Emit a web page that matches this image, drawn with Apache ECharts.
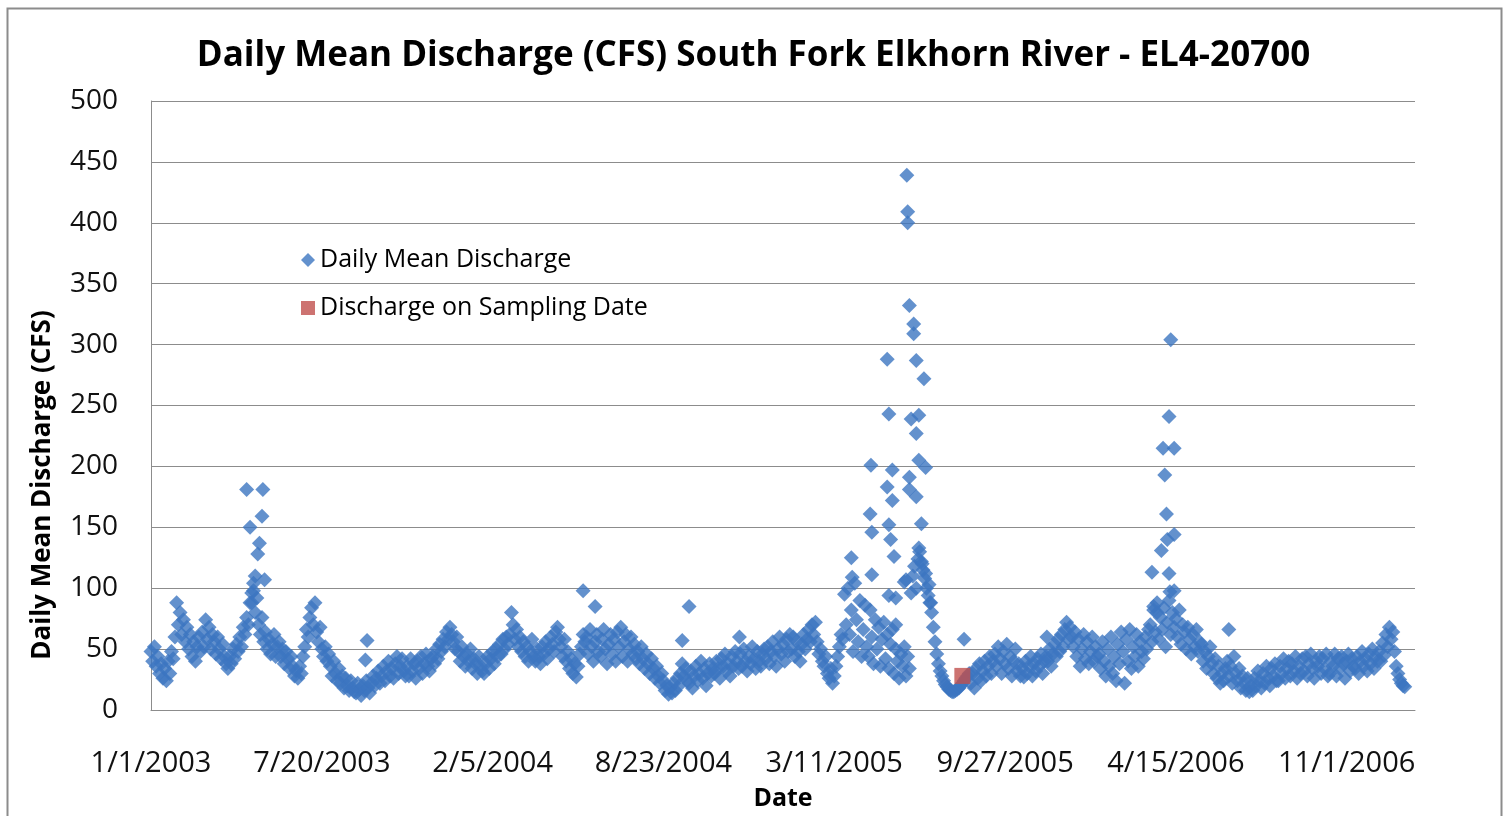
<!DOCTYPE html>
<html>
<head>
<meta charset="utf-8">
<script src="https://cdn.jsdelivr.net/npm/echarts@6/dist/echarts.min.js"></script>
<style>
html,body{margin:0;padding:0;background:#fff;}
#chart{width:1507px;height:816px;}
</style>
</head>
<body>
<div id="chart"></div>
<script>
// ---- DATA ----
const titleText = 'Daily Mean Discharge (CFS) South Fork Elkhorn River - EL4-20700';
const yAxisTitle = 'Daily Mean Discharge (CFS)';
const xAxisTitle = 'Date';
const seriesNames = ['Daily Mean Discharge', 'Discharge on Sampling Date'];
const startDateUTC = Date.UTC(2003, 0, 1);   // day 0 = 1/1/2003
const baseStepDays = 2;                       // base readings every 2 days from day 0
const baseFlow = [
  48,40,52,36,44,30,38,26,34,24,40,30,48,42,60,
  88,70,80,62,74,56,68,50,62,44,56,40,52,60,48,
  64,52,74,58,68,50,62,56,46,60,50,42,54,44,38,
  34,44,38,50,42,54,48,60,52,68,62,76,70,88,96,
  104,80,92,70,62,76,56,64,50,58,46,54,62,44,52,
  56,44,50,38,48,42,34,44,36,28,32,26,36,30,44,
  52,66,60,76,84,70,88,64,56,68,50,44,52,40,46,
  36,28,40,30,24,34,22,28,18,26,20,16,24,18,15,
  14,22,17,12,20,16,24,18,14,22,28,20,26,32,22,
  28,36,24,32,40,28,34,26,38,44,30,36,42,32,28,
  36,28,42,32,38,26,40,34,44,30,38,46,36,32,42,
  44,38,50,42,54,48,58,52,64,58,68,62,56,50,60,
  48,40,52,44,36,46,40,50,34,42,38,30,44,36,32,
  30,38,44,34,42,48,38,50,44,54,46,58,50,60,54,
  62,80,70,58,66,52,60,48,56,44,52,40,48,58,44,
  40,50,44,38,52,46,56,42,50,60,54,48,64,68,58,
  52,44,58,40,48,34,42,30,38,27,36,46,52,62,56,
  60,46,66,52,40,56,62,48,44,58,66,50,38,54,62,
  46,58,40,64,52,68,44,56,62,40,50,60,46,54,42,
  48,38,52,42,34,46,38,30,42,34,26,36,28,22,30,
  24,16,20,13,18,14,22,16,26,20,30,38,28,34,24,
  22,32,18,28,36,24,30,40,26,34,20,30,38,28,34,
  30,40,34,26,42,36,46,32,38,28,44,36,48,40,34,
  46,36,50,40,32,44,38,52,42,34,48,40,36,46,50,
  42,52,38,48,56,44,36,50,60,46,54,40,58,48,62,
  50,60,44,56,48,40,54,62,50,58,66,56,70,62,72,
  56,46,50,40,36,44,30,26,34,22,28,36,44,52,62,
  58,95,70,100,62,82,48,104,74,56,90,44,66,86,52,
  44,82,60,38,74,50,68,36,58,72,42,62,34,54,66,
  30,50,40,26,46,36,52,28,44,34,96,110,118,100,124,
  130,122,115,108,100,94,88,80,68,56,46,38,32,28,24,
  21,19,17,16,15,15,16,17,18,20,22,24,26,28,30,
  22,30,18,34,26,38,24,32,40,28,36,44,30,40,46,
  36,52,42,30,48,38,54,34,44,28,40,50,32,38,28,
  34,27,40,30,36,44,28,38,32,42,36,46,30,40,44,
  40,50,36,46,54,44,58,48,62,52,66,72,58,68,60,
  52,64,44,58,36,50,62,42,56,38,48,60,40,52,44,
  46,34,56,40,28,50,36,60,30,44,24,54,38,64,48,
  22,58,40,66,34,52,44,62,36,56,48,42,60,50,66,
  70,56,82,64,88,58,76,66,84,52,72,90,62,80,68,
  75,60,82,54,70,64,50,68,58,46,62,52,66,48,56,
  54,40,48,34,44,52,38,30,42,26,36,22,30,24,34,
  40,28,36,22,44,30,24,34,18,28,22,16,26,15,20,
  16,26,20,32,24,18,30,22,36,26,20,34,28,38,24,
  24,36,30,42,26,34,40,28,38,32,44,26,36,30,42,
  32,44,28,38,46,34,26,40,36,44,30,42,34,46,28,
  30,40,36,46,28,42,34,44,38,26,40,46,32,42,36,
  34,44,30,40,48,36,42,32,46,38,50,34,44,40,48,
  40,55,45,62,52,68,58,64,48,36,30,25,22,20,19
];
// high-flow days read individually (day offset from 1/1/2003, CFS)
const stormDays  = [112,116,118,120,122,125,127,130,131,133,251,253,
                    506,520,622,630,689,
                    820,821,842,843,844,844,862,862,864,864,864,866,868,868,870,872,872,
                    882,884,885,886,886,888,888,888,890,893,893,896,896,896,899,899,899,
                    902,903,905,907,907,911,913,952,1049,
                    1172,1174,1178,1183,1185,1187,1189,1190,1192,1192,1193,1194,1198,1198,1198,1262];
const stormFlows = [181,150,88,98,110,128,137,159,181,107,41,57,
                    98,85,57,85,60,
                    125,109,161,201,146,111,288,183,243,152,94,140,197,172,126,92,70,
                    105,107,439,409,400,332,181,191,239,317,309,287,227,175,242,205,133,
                    153,120,272,199,112,103,88,58,60,
                    113,85,80,131,215,193,161,140,241,112,97,304,215,144,98,66];
const sampleDays  = [950];
const sampleFlows = [28];
const yMin = 0, yMax = 500, yStep = 50;
const xMinDay = 0, xMaxDay = 1480, xStepDays = 200;

// ---- BUILD ----
function dayLabel(d){
  const t = new Date(startDateUTC + d*86400000);
  return (t.getUTCMonth()+1) + '/' + t.getUTCDate() + '/' + t.getUTCFullYear();
}
const blueData = baseFlow.map((v,i)=>[i*baseStepDays, v])
  .concat(stormDays.map((d,i)=>[d, stormFlows[i]]));
const redData = sampleDays.map((d,i)=>[d, sampleFlows[i]]);

const FONT = '"Open Sans", Lato, sans-serif';
const BLUE = '#3c76c0';
const RED = '#c0504d';
const chart = echarts.init(document.getElementById('chart'), null, {renderer:'canvas'});
chart.setOption({
  animation:false,
  backgroundColor:'#ffffff',
  textStyle:{fontFamily:FONT},
  title:{
    text:titleText, left:'center', top:34,
    textStyle:{fontFamily:FONT, fontSize:35, fontWeight:'bold', color:'#000'}
  },
  graphic:[
    {type:'rect', left:5, top:6, silent:true,
     shape:{width:1494, height:830},
     style:{fill:'none', stroke:'#8c8c8c', lineWidth:2}},
    {type:'text', x:43, y:485, rotation:Math.PI/2, silent:true,
     style:{text:yAxisTitle, fontFamily:FONT, fontSize:26, fontWeight:'bold',
            fill:'#000', align:'center', verticalAlign:'middle'}}
  ],
  legend:{
    orient:'vertical', left:296, top:240, itemGap:18,
    itemWidth:14, itemHeight:14,
    textStyle:{fontFamily:FONT, fontSize:25, color:'#000', lineHeight:30},
    data:[
      {name:seriesNames[0], icon:'diamond', itemStyle:{color:BLUE}},
      {name:seriesNames[1], icon:'rect', itemStyle:{color:RED}}
    ]
  },
  grid:{left:151, right:92, top:101, bottom:106},
  xAxis:{
    type:'value', min:xMinDay, max:xMaxDay, interval:xStepDays,
    name:xAxisTitle, nameLocation:'middle', nameGap:76,
    nameTextStyle:{fontFamily:FONT, fontSize:25, fontWeight:'bold', color:'#000'},
    axisLine:{show:true, onZero:false, lineStyle:{color:'#8c8c8c', width:1}},
    axisTick:{show:false},
    splitLine:{show:false},
    axisLabel:{margin:39, fontFamily:FONT, fontSize:29, color:'#111',
      formatter:(v)=>dayLabel(v), showMaxLabel:false}
  },
  yAxis:{
    type:'value', min:yMin, max:yMax, interval:yStep,
    axisLine:{show:true, lineStyle:{color:'#8c8c8c', width:1}},
    axisTick:{show:false},
    splitLine:{show:true, lineStyle:{color:'#8c8c8c', width:1}},
    axisLabel:{margin:33, fontFamily:FONT, fontSize:28, color:'#111'}
  },
  series:[
    {name:seriesNames[0], type:'scatter', symbol:'diamond', symbolSize:[15,15],
     itemStyle:{color:BLUE}, data:blueData, z:2},
    {name:seriesNames[1], type:'scatter', symbol:'rect', symbolSize:[16,16],
     itemStyle:{color:RED}, data:redData, z:3}
  ]
});
</script>
</body>
</html>
